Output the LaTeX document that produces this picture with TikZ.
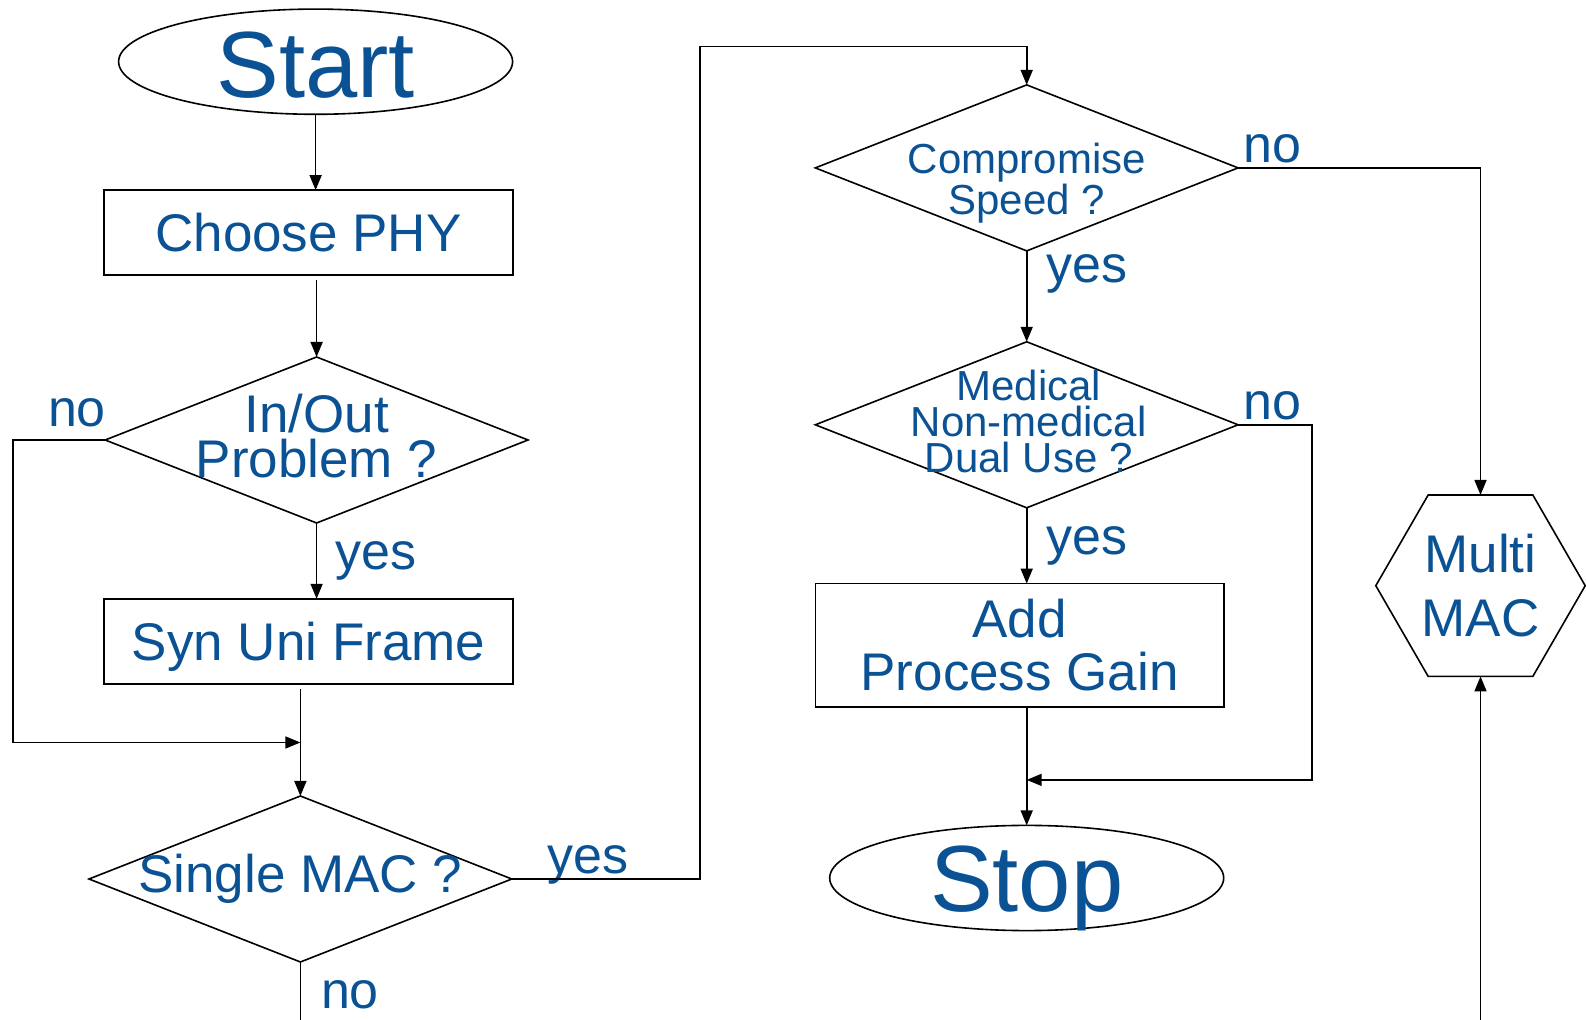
\documentclass[tikz,border=0pt]{standalone}
\usepackage{fontspec}
\setmainfont{Liberation Sans}
\usepackage{xcolor}
\usetikzlibrary{shapes.geometric,arrows.meta}
\definecolor{macblue}{RGB}{10,82,148}

\begin{document}
\begin{tikzpicture}[
    x=0.5pt, y=-0.5pt,
    every node/.style={text=macblue, align=center, inner sep=0pt, outer sep=0pt},
    textbig/.style={font=\fontsize{26.5}{22.3}\selectfont},
    textsmall/.style={font=\fontsize{21}{18}\selectfont},
    texttitle/.style={font=\fontsize{47}{47}\selectfont},
    answer/.style={font=\fontsize{26}{26}\selectfont},
    term/.style={ellipse, draw=black, line width=0.8pt, minimum width=197pt, minimum height=52.6pt},
    box/.style={rectangle, draw=black, line width=0.8pt, minimum width=204.3pt, minimum height=42.5pt, text depth=0pt},
    decision/.style={diamond, draw=black, line width=0.8pt, minimum width=211.4pt, minimum height=83pt},
    hexa/.style={regular polygon, regular polygon sides=6, draw=black, line width=0.8pt, minimum size=104.7pt},
    arrow/.style={-{Triangle[length=7.5pt,width=6pt]}, line width=0.8pt},
    line/.style={line width=0.8pt}
]
\useasboundingbox (0,0) rectangle (1586,1020);

% Nodes
\node[term] (start) at (315.6,61.7) {};
\node[texttitle] (starttext) at (315.6,65) {Start};
\node[box, textbig] (choose) at (308.5,232.6) {Choose PHY};
\node[decision] (inout) at (316.6,440) {};
\node[textbig, yshift=2pt] (inouttext) at (inout) {In/Out\\Problem ?};
\node[box, textbig] (syn) at (308.5,641.3) {Syn Uni Frame};
\node[decision] (single) at (300.4,879) {};
\node[textbig] (singletext) at (single) {Single MAC ?};

\node[decision] (speed) at (1026.7,167.9) {};
\node[textsmall, font=\fontsize{21}{19}\selectfont, yshift=-7.5pt] (speedtext) at (speed) {Compromise\\Speed ?};
\node[decision] (medical) at (1026.7,424.8) {};
\node[textsmall, xshift=1pt, yshift=1.8pt] (medicaltext) at (medical) {Medical\\Non-medical\\Dual Use ?};
\node[box, font=\fontsize{26.5}{26.5}\selectfont, minimum height=61.7pt] (gain) at (1019.6,645.3) {Add\\Process Gain};
\node[term] (stop) at (1026.7,878) {};
\node[texttitle] (stoptext) at (1026.7,888) {Stop};
\node[hexa, font=\fontsize{26.5}{31.9}\selectfont] (multi) at (1480.5,585.7) {Multi\\MAC};

% Labels
\node[answer] (noinout) at (77,413) {no};
\node[answer] (yesinout) at (376,561) {yes};
\node[answer] (yessingle) at (588,865) {yes};
\node[answer] (nosingle) at (350,995) {no};
\node[answer] (nospeed) at (1272.5,149) {no};
\node[answer] (yesspeed) at (1087.4,274) {yes};
\node[answer] (nomedical) at (1272.5,406) {no};
\node[answer] (yesmedical) at (1087.4,546) {yes};

% Turning points
\coordinate (loopleft) at (13,742.5);
\coordinate (yesturn) at (700,46.5);
\coordinate (noturn) at (1312,779.9);
\coordinate (floor) at (0,1020);

% Arrows
\draw[arrow] (start.south) -- (start.south |- choose.north);
\draw[arrow, shorten <=2.5pt] (inout.north |- choose.south) -- (inout.north);
\draw[arrow] (inout.west) -| (loopleft) -- (loopleft -| single);
\draw[arrow] (inout.south) -- (inout.south |- syn.north);
\draw[arrow, shorten <=2.5pt] (single.north |- syn.south) -- (single.north);
\draw[arrow] (single.east) -| (yesturn) -| (speed.north);
\draw[line] (single.south) -- (single.south |- floor);

\draw[arrow] (speed.east) -| (multi.north);
\draw[arrow] (speed.south) -- (medical.north);
\draw[arrow] (medical.east) -| (noturn) -- (noturn -| stop.north);
\draw[arrow] (medical.south) -- (medical.south |- gain.north);
\draw[arrow] (gain.south -| stop) -- (stop.north);
\draw[arrow] (multi.south |- floor) -- (multi.south);

\end{tikzpicture}
\end{document}
